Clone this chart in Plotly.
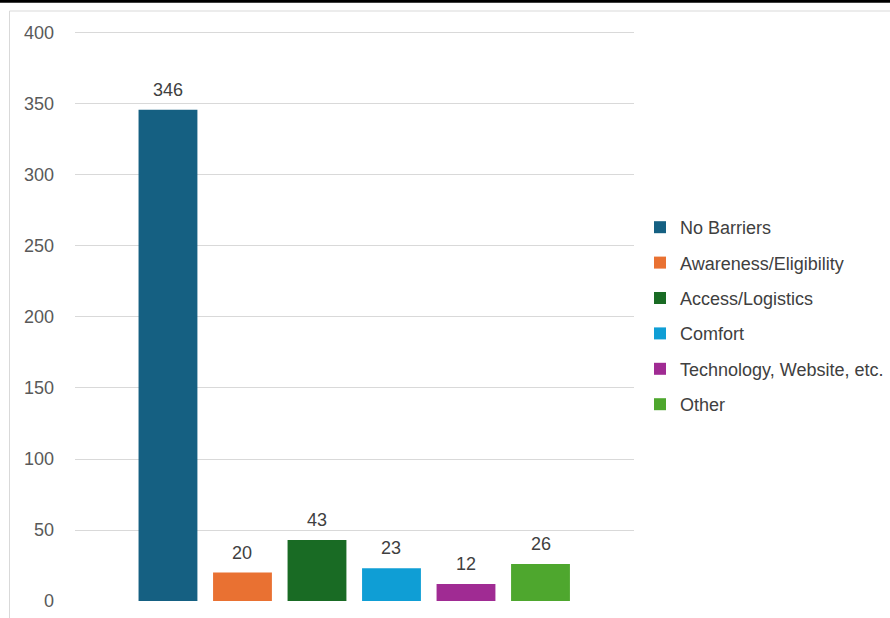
import plotly.graph_objects as go

# Survey responses: reported barriers
categories = ["No Barriers", "Awareness/Eligibility", "Access/Logistics",
              "Comfort", "Technology, Website, etc.", "Other"]
counts = [346, 20, 43, 23, 12, 26]
colors = ["#156082", "#E97132", "#196B24", "#0F9ED5", "#A02B93", "#4EA72E"]
y_ticks = [0, 50, 100, 150, 200, 250, 300, 350, 400]

W, H = 890, 618
M_L, M_R, M_T, M_B = 75, 256, 30, 17
plot_h = H - M_T - M_B

def px_to_paper_y(py):
    return (H - M_B - py) / plot_h

def px_to_paper_x(px):
    return (px - M_L) / (W - M_L - M_R)

FONT = "Liberation Sans, Arial, sans-serif"

fig = go.Figure()
for cat, val, col in zip(categories, counts, colors):
    fig.add_trace(go.Bar(
        x=[cat], y=[val], name=cat, width=0.79,
        marker=dict(color=col, line=dict(width=0)),
        legendgroup=cat,
    ))
    fig.add_annotation(
        x=cat, y=val, text=str(val), showarrow=False,
        yanchor="bottom", yshift=8,
        font=dict(family=FONT, size=18, color="#404040"),
    )

fig.update_layout(
    width=W, height=H,
    margin=dict(l=M_L, r=M_R, t=M_T, b=M_B, autoexpand=False),
    paper_bgcolor="white", plot_bgcolor="white",
    barmode="overlay",
    font=dict(family=FONT, size=18, color="#595959"),
    xaxis=dict(
        type="category", categoryorder="array", categoryarray=categories,
        range=[-1.248, 6.255], showticklabels=False, showgrid=False,
        zeroline=False, showline=False, ticks="",
    ),
    yaxis=dict(
        range=[0, 402.1], tickvals=y_ticks, showgrid=True, gridcolor="#d9d9d9",
        gridwidth=1, zeroline=False, showline=False, ticks="",
        ticklabelstandoff=20,
        tickfont=dict(family=FONT, size=18, color="#595959"),
    ),
    legend=dict(
        x=px_to_paper_x(640), xanchor="left",
        y=px_to_paper_y(316), yanchor="middle",
        font=dict(family=FONT, size=18, color="#404040"),
        traceorder="grouped", tracegroupgap=9, itemwidth=30,
        bgcolor="rgba(0,0,0,0)",
    ),
    shapes=[
        # chart frame
        dict(type="rect", xref="paper", yref="paper",
             x0=px_to_paper_x(9.5), x1=px_to_paper_x(W + 20),
             y0=px_to_paper_y(H + 20), y1=px_to_paper_y(11),
             line=dict(color="#d9d9d9", width=1), fillcolor="rgba(0,0,0,0)",
             layer="below"),
        # top rule
        dict(type="rect", xref="paper", yref="paper",
             x0=px_to_paper_x(-10), x1=px_to_paper_x(W + 10),
             y0=px_to_paper_y(2.7), y1=px_to_paper_y(-10),
             line=dict(width=0), fillcolor="black"),
    ],
)

fig.write_html("out.html")
